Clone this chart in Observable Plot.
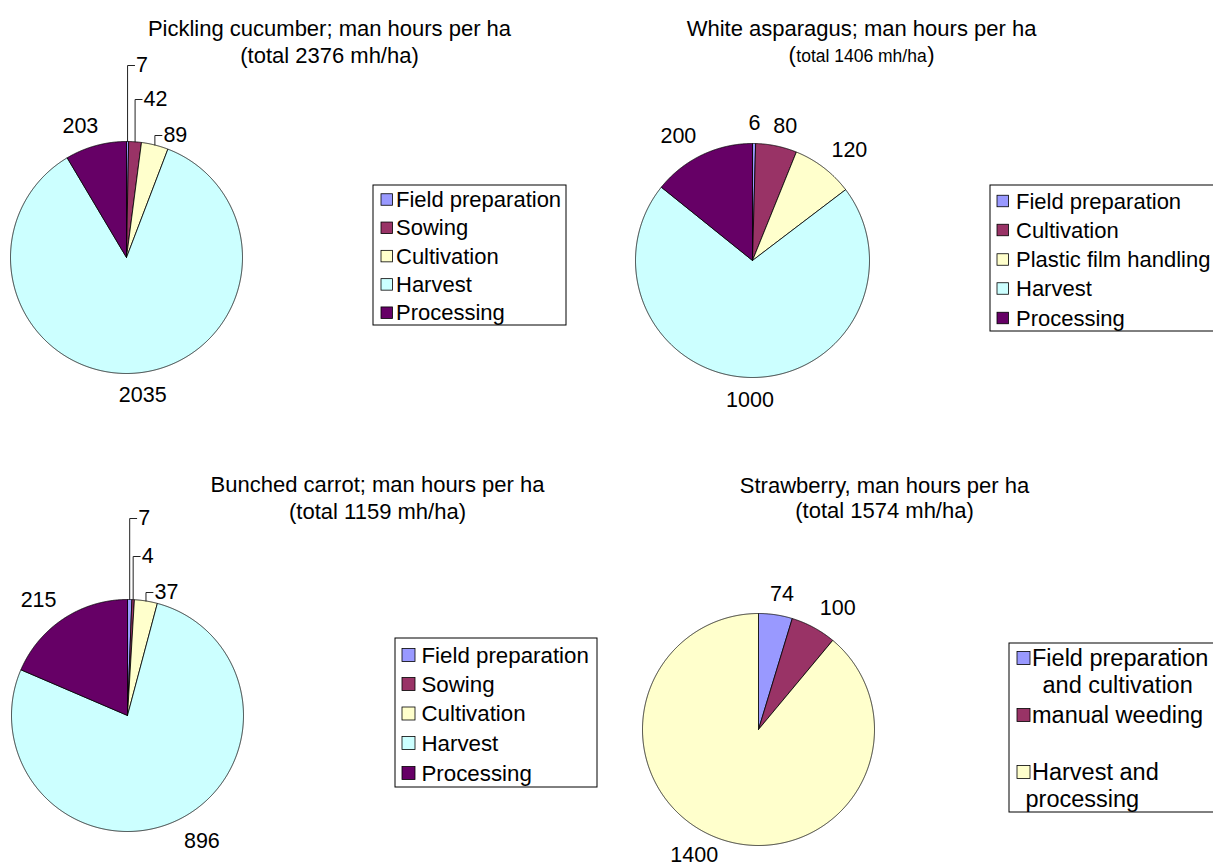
<!DOCTYPE html>
<html>
<head>
<meta charset="utf-8">
<script src="https://cdn.jsdelivr.net/npm/d3@7"></script>
<script src="https://cdn.jsdelivr.net/npm/@observablehq/plot@0.6"></script>
<style>
  html, body { margin: 0; padding: 0; background: #fff; overflow: hidden; }
</style>
</head>
<body>
<div id="chart"></div>
<script>
// ---------------- DATA ----------------
const titles = [
  "Pickling cucumber; man hours per ha",
  "White asparagus; man hours per ha",
  "Bunched carrot; man hours per ha",
  "Strawberry, man hours per ha"
];
const totals = [2376, 1406, 1159, 1574];

const cucumberCategories = ["Field preparation", "Sowing", "Cultivation", "Harvest", "Processing"];
const cucumberValues = [7, 42, 89, 2035, 203];

const asparagusCategories = ["Field preparation", "Cultivation", "Plastic film handling", "Harvest", "Processing"];
const asparagusValues = [6, 80, 120, 1000, 200];

const carrotCategories = ["Field preparation", "Sowing", "Cultivation", "Harvest", "Processing"];
const carrotValues = [7, 4, 37, 896, 215];

const strawberryCategories = ["Field preparation\nand cultivation", "manual weeding", "Harvest and\nprocessing"];
const strawberryValues = [74, 100, 1400];

const fiveColors = ["#9999FF", "#993366", "#FFFFCC", "#CCFFFF", "#660066"];
const threeColors = ["#9999FF", "#993366", "#FFFFCC"];

// ---------------- LAYOUT (pixel space) ----------------
const W = 1213, H = 867;
const FONT = '"Liberation Sans", Arial, Helvetica, sans-serif';
const TITLE_FS = 22, LABEL_FS = 21.5;

const pies = [
  {cats: cucumberCategories, values: cucumberValues, colors: fiveColors},
  {cats: asparagusCategories, values: asparagusValues, colors: fiveColors},
  {cats: carrotCategories, values: carrotValues, colors: fiveColors},
  {cats: strawberryCategories, values: strawberryValues, colors: threeColors}
];

const layout = [
  {cx: 126, cy: 257, r: 116, tx: 329, ty: 35, ty2: 62, smallSub: false,
   leaders: {0: 192, 1: 158, 2: 122},
   legend: {x1: 373, y1: 185, x2: 566, y2: 325, rows: [199.5, 227.8, 256.1, 284.4, 312.7], fs: 22, lineStep: 0, sw: 11.5, sx: 381, tx: 395.5, contX: []}},
  {cx: 752, cy: 260, r: 117, tx: 861, ty: 35, ty2: 61, smallSub: true,
   leaders: {},
   legend: {x1: 990, y1: 185, x2: 1240, y2: 331, rows: [201, 230, 259.5, 288.5, 318], fs: 22, lineStep: 0, sw: 11.5, sx: 997, tx: 1015.5, contX: []}},
  {cx: 127, cy: 715, r: 116, tx: 377, ty: 491, ty2: 518, smallSub: false,
   leaders: {0: 197, 1: 159, 2: 123},
   legend: {x1: 395, y1: 638, x2: 597, y2: 787, rows: [655, 684, 713.5, 743, 773], fs: 22.3, lineStep: 0, sw: 13, sx: 402, tx: 421, contX: []}},
  {cx: 758, cy: 729, r: 116, tx: 884, ty: 492, ty2: 517, smallSub: false,
   leaders: {},
   legend: {x1: 1009, y1: 643, x2: 1240, y2: 812, rows: [658, 715, 772], fs: 23.5, lineStep: 27, sw: 13, sx: 1017, tx: 1031.5, contX: [1042, null, 1025]}}
];

// ---------------- helpers ----------------
const ctx = document.createElement("canvas").getContext("2d");
function textWidth(s, size) {
  ctx.font = `${size}px "Liberation Sans", Arial, sans-serif`;
  return ctx.measureText(s).width;
}
const clamp = (v, a, b) => Math.max(a, Math.min(b, v));

const sliceRows = [], leaderRows = [], labelRows = [], titleRows = [];
const boxRows = [], swatchRows = [], legendTextRows = [];

pies.forEach((pie, p) => {
  const L = layout[p];
  const total = d3.sum(pie.values);
  let cum = 0;
  pie.values.forEach((v, i) => {
    const a0 = cum / total * 2 * Math.PI;
    cum += v;
    const a1 = cum / total * 2 * Math.PI;
    const key = `${p}-${i}`;
    const color = pie.colors[i];
    // slice polygon: center -> arc -> center
    sliceRows.push({key, x: L.cx, y: L.cy, color});
    const n = Math.max(2, Math.ceil((a1 - a0) / (Math.PI / 720)));
    for (let k = 0; k <= n; k++) {
      const a = a0 + (a1 - a0) * k / n;
      sliceRows.push({key, x: L.cx + L.r * Math.sin(a), y: L.cy - L.r * Math.cos(a), color});
    }
    sliceRows.push({key, x: L.cx, y: L.cy, color});

    // labels
    const mid = (a0 + a1) / 2;
    const dx = Math.sin(mid), dy = -Math.cos(mid);
    const text = String(v);
    if (L.leaders[i] !== undefined) {
      const ex = L.cx + L.r * dx, ey = L.cy + L.r * dy;
      const ly = L.cy - L.leaders[i];
      leaderRows.push({key, x: ex, y: ey}, {key, x: ex, y: ly}, {key, x: ex + 7, y: ly});
      labelRows.push({x: ex + 8.5, y: ly, text, anchor: "start"});
    } else {
      const g = 13;
      const px = L.cx + (L.r + g) * dx, py = L.cy + (L.r + g) * dy;
      const w = textWidth(text, LABEL_FS), h = 15;
      labelRows.push({
        x: px + clamp(dx / 0.4, -1, 1) * w / 2,
        y: Math.min(H - 12.5, py + clamp(dy / 0.3, -1, 1) * h / 2 + (dy > 0 ? 2 : 0)),
        text, anchor: "middle"
      });
    }

    // legend entries
    const lg = L.legend;
    const ry = lg.rows[i];
    swatchRows.push({x1: lg.sx, x2: lg.sx + lg.sw, y1: ry - lg.sw / 2, y2: ry + lg.sw / 2, color});
    const lines = pie.cats[i].split("\n");
    lines.forEach((s, j) => {
      const y = ry + j * lg.lineStep;
      const x = j === 0 ? lg.tx : (lg.contX[i] ?? lg.tx);
      legendTextRows.push({x, y, text: s, size: lg.fs, anchor: "start"});
    });
  });

  // legend box
  boxRows.push({x1: L.legend.x1, x2: L.legend.x2, y1: L.legend.y1, y2: L.legend.y2});

  // titles
  titleRows.push({x: L.tx, y: L.ty, text: titles[p], size: TITLE_FS, anchor: "middle"});
  const inner = `total ${totals[p]} mh/ha`;
  if (L.smallSub) {
    const iw = textWidth(inner, 17.5);
    titleRows.push({x: L.tx, y: L.ty2, text: inner, size: 17.5, anchor: "middle"});
    titleRows.push({x: L.tx - iw / 2 - 0.5, y: L.ty2, text: "(", size: TITLE_FS, anchor: "end"});
    titleRows.push({x: L.tx + iw / 2 + 0.5, y: L.ty2, text: ")", size: TITLE_FS, anchor: "start"});
  } else {
    titleRows.push({x: L.tx, y: L.ty2, text: `(${inner})`, size: TITLE_FS, anchor: "middle"});
  }
});

const anchors = ["start", "middle", "end"];
const textMarks = (rows, opts) => anchors.map(a =>
  Plot.text(rows.filter(d => d.anchor === a), {x: "x", y: "y", text: "text", textAnchor: a, fill: "black", ...opts})
);

const chart = Plot.plot({
  width: W,
  height: H,
  margin: 0,
  x: {domain: [0, W], range: [0, W], axis: null},
  y: {domain: [0, H], range: [0, H], axis: null},
  color: {type: "identity"},
  style: {fontFamily: FONT, background: "white", color: "black"},
  marks: [
    Plot.line(sliceRows, {x: "x", y: "y", z: "key", fill: "color", stroke: "black", strokeWidth: 0.8, strokeLinejoin: "miter", curve: "linear"}),
    Plot.line(leaderRows, {x: "x", y: "y", z: "key", stroke: "#222", strokeWidth: 1, curve: "linear"}),
    ...textMarks(labelRows, {lineAnchor: "middle", fontSize: LABEL_FS}),
    Plot.rect(boxRows, {x1: "x1", x2: "x2", y1: "y1", y2: "y2", fill: "white", stroke: "black", strokeWidth: 1}),
    Plot.rect(swatchRows, {x1: "x1", x2: "x2", y1: "y1", y2: "y2", fill: "color", stroke: "black", strokeWidth: 0.8}),
    ...textMarks(legendTextRows, {lineAnchor: "middle", fontSize: d => d.size}),
    ...textMarks(titleRows, {lineAnchor: "bottom", fontSize: d => d.size})
  ]
});

document.getElementById("chart").appendChild(chart);
</script>
</body>
</html>
